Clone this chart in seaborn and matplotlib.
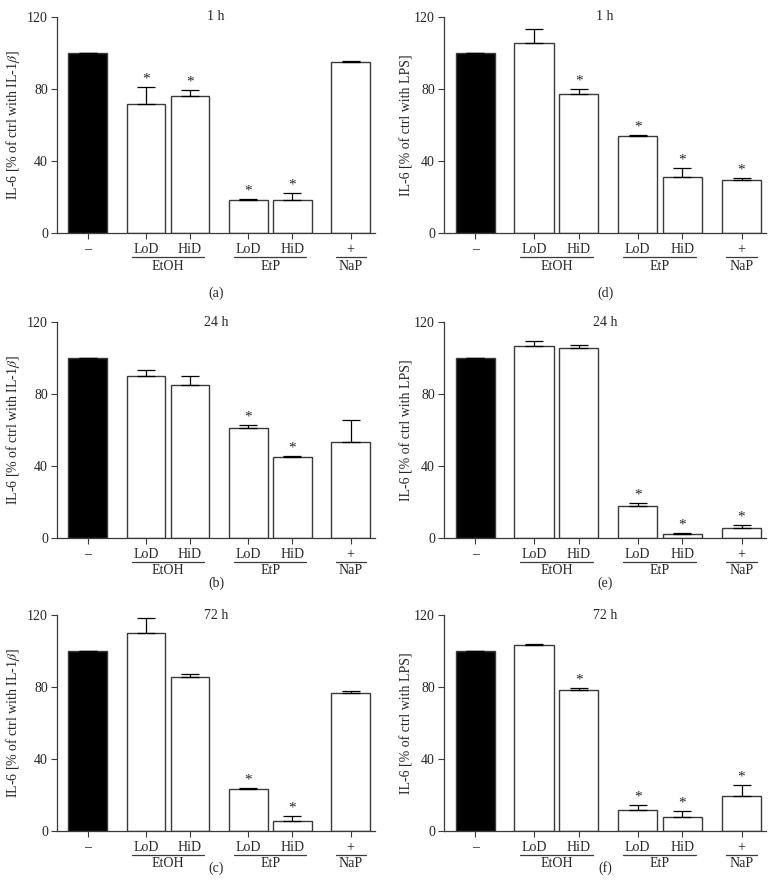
import numpy as np
import pandas as pd
import matplotlib
matplotlib.use('Agg')
import matplotlib.pyplot as plt
from matplotlib.lines import Line2D
from matplotlib.transforms import offset_copy
import seaborn as sns

# ==========================================
# DATA
# ==========================================
tick_labels = ['\u2013', 'LoD', 'HiD', 'LoD', 'HiD', '+']
treatments = ['ctrl', 'EtOH', 'EtOH', 'EtP', 'EtP', 'NaP']
group_names = ['EtOH', 'EtP', 'NaP']

times = ['1 h', '24 h', '72 h']
panel_letters = [['(a)', '(b)', '(c)'], ['(d)', '(e)', '(f)']]
ylabels = [r'IL-6 [% of ctrl with IL-1$\beta$]', 'IL-6 [% of ctrl with LPS]']

# IL-1beta stimulated (left column)
il1b_mean = [
    [100, 71.9, 75.9, 18.3, 18.1, 95.2],   # 1 h
    [100, 90.0, 85.2, 61.1, 45.2, 53.5],   # 24 h
    [100, 110.0, 85.7, 23.1, 5.4, 76.5],   # 72 h
]
il1b_sem = [
    [0, 9.2, 3.5, 0.6, 3.9, 0.4],
    [0, 3.5, 5.0, 1.7, 0.5, 11.9],
    [0, 8.3, 1.3, 0.6, 3.1, 1.3],
]
il1b_star = [
    [0, 1, 1, 1, 1, 0],
    [0, 0, 0, 1, 1, 0],
    [0, 0, 0, 1, 1, 0],
]

# LPS stimulated (right column)
lps_mean = [
    [100, 105.6, 77.0, 54.1, 31.3, 29.4],
    [100, 106.9, 105.4, 18.0, 2.0, 5.7],
    [100, 103.3, 78.5, 11.5, 7.6, 19.3],
]
lps_sem = [
    [0, 7.5, 3.2, 0.2, 4.6, 1.0],
    [0, 2.4, 2.0, 1.5, 0.8, 1.5],
    [0, 0.4, 1.1, 2.8, 3.7, 6.1],
]
lps_star = [
    [0, 0, 1, 1, 1, 1],
    [0, 0, 0, 1, 1, 1],
    [0, 0, 1, 1, 1, 1],
]

# ==========================================
# LAYOUT
# ==========================================
BAR_POS = [0, 1.32, 2.32, 3.64, 4.64, 5.97]
GROUP_SPAN = [(1.32, 2.32), (3.64, 4.64), (5.97, 5.97)]
BAR_W = 0.88
FS = 10
EDGE = '#3a3a3a'
PX = 0.72  # points per pixel at 100 dpi

sns.set_style('ticks')
plt.rcParams['font.family'] = ['Liberation Serif', 'DejaVu Serif']
plt.rcParams['mathtext.fontset'] = 'stix'

fig = plt.figure(figsize=(7.82, 8.93), dpi=100)

row_bottom = [0.7391, 0.3975, 0.0694]
row_h = 0.2419
col_left = [0.0729, 0.5678]
col_w = [0.4066, 0.4118]
ylab_off = [35, 31]   # px from axis to right edge of y label
# distance (px) of group label / panel letter below the axis
group_off = [34, 32, 32]
letter_off = [60, 45, 37]

all_means = [il1b_mean, lps_mean]
all_sems = [il1b_sem, lps_sem]
all_stars = [il1b_star, lps_star]
pal = {'ctrl': 'black', 'EtOH': 'white', 'EtP': 'white', 'NaP': 'white'}

for c in range(2):
    for r in range(3):
        ax = fig.add_axes([col_left[c], row_bottom[r], col_w[c], row_h])
        means = all_means[c][r]
        sems = all_sems[c][r]
        stars = all_stars[c][r]

        df = pd.DataFrame({'pos': BAR_POS, 'value': means, 'treat': treatments})
        sns.barplot(data=df, x='pos', y='value', hue='treat', palette=pal,
                    native_scale=True, width=BAR_W, errorbar=None,
                    edgecolor=EDGE, linewidth=1.0, legend=False, ax=ax)

        # one-sided (upper) SEM bars
        ax.errorbar(BAR_POS, means, yerr=[np.zeros(len(sems)), sems], fmt='none',
                    ecolor='black', elinewidth=0.9, capsize=6.5, capthick=0.9, zorder=3)

        for x, m, s, st in zip(BAR_POS, means, sems, stars):
            if st:
                ax.annotate('*', xy=(x, m + s), xytext=(0, 8 * PX), textcoords='offset points',
                            ha='center', va='center', fontsize=FS + 1)

        ax.set_xlim(-0.70, 6.52)
        ax.set_ylim(0, 120)
        ax.set_yticks([0, 40, 80, 120])
        ax.set_xticks(BAR_POS)
        ax.set_xticklabels(tick_labels)
        ax.tick_params(axis='both', labelsize=FS, length=4, width=0.8, color=EDGE)
        ax.tick_params(axis='x', pad=3.5)
        ax.tick_params(axis='y', pad=2.5)
        ax.set_xlabel('')
        ax.set_ylabel(ylabels[c], fontsize=FS)
        ax.yaxis.set_label_coords(-ylab_off[c] / (col_w[c] * 782), 0.5)
        sns.despine(ax=ax)
        for sp in ['left', 'bottom']:
            ax.spines[sp].set_linewidth(0.9)
            ax.spines[sp].set_color(EDGE)

        ax.text(0.5, 1.0, times[r], transform=ax.transAxes, ha='center', va='center', fontsize=FS)

        # treatment group underline + name
        trans = ax.get_xaxis_transform()
        lt = offset_copy(trans, fig=fig, y=-24 * PX, units='points')
        for (x0, x1), name in zip(GROUP_SPAN, group_names):
            ext = 0.32 if x0 != x1 else 0.34
            ax.add_line(Line2D([x0 - ext, x1 + ext], [0, 0], transform=lt,
                               color=EDGE, linewidth=0.9, clip_on=False))
            ax.annotate(name, xy=((x0 + x1) / 2, 0), xycoords=trans,
                        xytext=(0, -group_off[r] * PX), textcoords='offset points',
                        ha='center', va='center', fontsize=FS)

        ax.annotate(panel_letters[c][r], xy=(0.5, 0), xycoords='axes fraction',
                    xytext=(0, -letter_off[r] * PX), textcoords='offset points',
                    ha='center', va='center', fontsize=FS)

plt.savefig('out.png', dpi=100)
